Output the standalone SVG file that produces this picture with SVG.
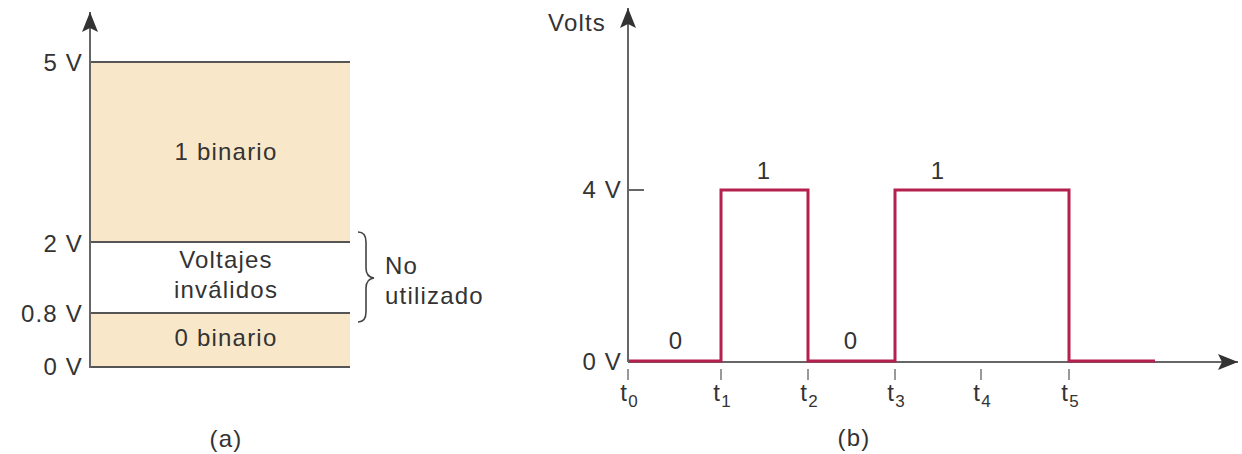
<svg xmlns="http://www.w3.org/2000/svg" width="1242" height="454" viewBox="0 0 1242 454">
<style>
text{font-family:"Liberation Sans",Arial,sans-serif;font-size:24px;fill:#333;letter-spacing:1.2px}
.mid{text-anchor:middle}
.end{text-anchor:end}
.axis{stroke:#666;stroke-width:2;fill:none}
.lvl{stroke:#555;stroke-width:2;fill:none}
.tick{stroke:#777;stroke-width:1.5}
.sig{stroke:#b5214e;stroke-width:3;fill:none;stroke-linejoin:miter}
.sub{font-size:17px;letter-spacing:0}
</style>
<defs>
<marker id="ah" markerWidth="22" markerHeight="18" refX="20" refY="8" orient="auto" markerUnits="userSpaceOnUse">
<path d="M0,0 L20,8 L0,16 L4,8 Z" fill="#333"/>
</marker>
</defs>
<rect width="1242" height="454" fill="#fff"/>

<g id="panel-a">
<g id="band-1">
<rect x="90" y="62" width="260" height="180" fill="#f8e8c9"/>
<text x="226" y="160" class="mid">1 binario</text>
</g>
<g id="band-invalid">
<text x="226" y="268" class="mid">Voltajes</text>
<text x="226" y="298" class="mid">inválidos</text>
</g>
<g id="band-0">
<rect x="90" y="313" width="260" height="54" fill="#f8e8c9"/>
<text x="226" y="346" class="mid">0 binario</text>
</g>
<g id="levels">
<line x1="90" y1="62" x2="350" y2="62" class="lvl"/>
<line x1="90" y1="242" x2="350" y2="242" class="lvl"/>
<line x1="90" y1="313" x2="350" y2="313" class="lvl"/>
<line x1="90" y1="367" x2="350" y2="367" class="lvl"/>
</g>
<g id="axis-a">
<line x1="90" y1="368" x2="90" y2="12" class="axis" marker-end="url(#ah)"/>
<text x="83" y="71" class="end">5 V</text>
<text x="83" y="252" class="end">2 V</text>
<text x="83" y="322" class="end">0.8 V</text>
<text x="83" y="375" class="end">0 V</text>
</g>
<g id="brace">
<path d="M358,232 Q366,232 366,242 V268 Q366,277 374,278 Q366,279 366,288 V312 Q366,322 358,322" fill="none" stroke="#444" stroke-width="1.6"/>
<text x="385" y="274">No</text>
<text x="385" y="304">utilizado</text>
</g>
<text x="226" y="447" class="mid">(a)</text>
</g>

<g id="panel-b">
<g id="axes-b">
<line x1="628" y1="362" x2="628" y2="8" class="axis" marker-end="url(#ah)"/>
<line x1="628" y1="362" x2="1238" y2="362" class="axis" marker-end="url(#ah)"/>
<line x1="628" y1="190" x2="644" y2="190" class="axis"/>
<text x="548" y="31">Volts</text>
<text x="622" y="198" class="end">4 V</text>
<text x="622" y="370" class="end">0 V</text>
</g>
<g id="ticks">
<line x1="628" y1="369" x2="628" y2="380" class="tick"/>
<line x1="721" y1="369" x2="721" y2="380" class="tick"/>
<line x1="808" y1="369" x2="808" y2="380" class="tick"/>
<line x1="895" y1="369" x2="895" y2="380" class="tick"/>
<line x1="981" y1="369" x2="981" y2="380" class="tick"/>
<line x1="1069" y1="369" x2="1069" y2="380" class="tick"/>
<text x="629" y="401" class="mid">t<tspan class="sub" dy="6">0</tspan></text>
<text x="722" y="401" class="mid">t<tspan class="sub" dy="6">1</tspan></text>
<text x="809" y="401" class="mid">t<tspan class="sub" dy="6">2</tspan></text>
<text x="896" y="401" class="mid">t<tspan class="sub" dy="6">3</tspan></text>
<text x="982" y="401" class="mid">t<tspan class="sub" dy="6">4</tspan></text>
<text x="1070" y="401" class="mid">t<tspan class="sub" dy="6">5</tspan></text>
</g>
<g id="signal">
<path d="M629,361 H721 V190 H808 V361 H895 V190 H1069 V361 H1155" class="sig"/>
</g>
<g id="bit-labels">
<text x="676" y="349" class="mid">0</text>
<text x="764" y="179" class="mid">1</text>
<text x="851" y="349" class="mid">0</text>
<text x="938" y="179" class="mid">1</text>
</g>
<text x="854" y="446" class="mid">(b)</text>
</g>
</svg>
